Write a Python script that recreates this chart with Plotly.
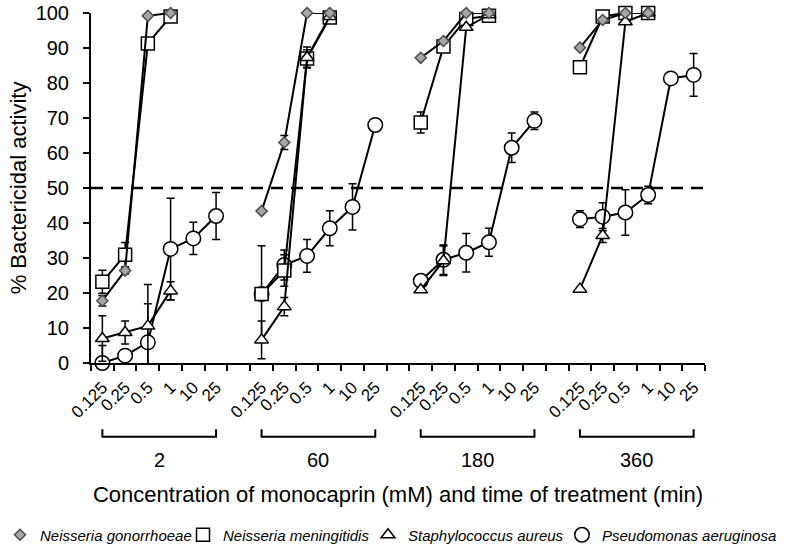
import plotly.graph_objects as go

# ---------------- data ----------------
conc_labels = ["0.125", "0.25", "0.5", "1", "10", "25"]
time_labels = ["2", "60", "180", "360"]

# N. gonorrhoeae (diamond) values per time group
ng_vals = [
    [17.8, 26.4, 99.2, 100, None, None],
    [43.4, 63.0, 100, 100, None, None],
    [87.2, 92.0, 100, 100, None, None],
    [90.1, 98.0, 100, 100, None, None],
]
ng_err = [
    [1.5, 1.0, 0, 0, 0, 0],
    [0, 2.0, 0, 0, 0, 0],
    [0, 0.5, 0, 0, 0, 0],
    [0, 0.5, 0, 0, 0, 0],
]
# N. meningitidis (square)
nm_vals = [
    [23.2, 30.9, 91.3, 99.0, None, None],
    [19.7, 26.4, 87.0, 98.7, None, None],
    [68.7, 90.4, 98.3, 99.2, None, None],
    [84.5, 99.0, 100, 100, None, None],
]
nm_err = [
    [3.3, 3.5, 0.5, 0.5, 0, 0],
    [13.8, 4.5, 2.5, 0.5, 0, 0],
    [3.0, 1.0, 0.5, 0.5, 0, 0],
    [0, 0.5, 0, 0, 0, 0],
]
# S. aureus (triangle)
sa_vals = [
    [7.0, 8.7, 10.6, 20.6, None, None],
    [6.6, 16.1, 87.3, 99.0, None, None],
    [20.9, 29.2, 95.9, 99.5, None, None],
    [21.1, 36.4, 97.5, 100, None, None],
]
sa_err = [
    [6.5, 3.3, 11.8, 2.6, 0, 0],
    [5.4, 2.6, 3.0, 0.5, 0, 0],
    [0.5, 4.2, 0.5, 0, 0, 0],
    [0.5, 2.0, 0.5, 0, 0, 0],
]
# P. aeruginosa (circle)
pa_vals = [
    [0.0, 2.1, 5.9, 32.6, 35.6, 42.0],
    [19.7, 28.0, 30.6, 38.5, 44.6, 68.0],
    [23.5, 29.5, 31.5, 34.5, 61.5, 69.2],
    [41.1, 41.8, 43.0, 48.0, 81.3, 82.3],
]
pa_err = [
    [5.0, 0.5, 11.0, 14.5, 4.6, 6.7],
    [1.0, 4.3, 4.7, 5.0, 6.6, 1.5],
    [1.5, 4.2, 5.5, 4.0, 4.2, 2.5],
    [2.4, 4.0, 6.5, 2.5, 0.5, 6.1],
]

names = ["Neisseria gonorrhoeae", "Neisseria meningitidis",
         "Staphylococcus aureus", "Pseudomonas aeruginosa"]

# ---------------- layout helpers ----------------
n_conc = len(conc_labels)
stride = n_conc + 1  # one empty slot between groups
n_slots = stride * len(time_labels) - 1


def flatten(groups):
    out = []
    for gi, g in enumerate(groups):
        out.extend(g)
        if gi < len(groups) - 1:
            out.append(None)
    return out


xs = list(range(n_slots))
centers = [g * stride + i for g in range(len(time_labels)) for i in range(n_conc)]
center_text = [conc_labels[i] for g in range(len(time_labels)) for i in range(n_conc)]
boundaries = [v - 0.5 for v in range(n_slots + 1)]

FONT = "Liberation Sans, Arial, sans-serif"
W, H = 786, 546

styles = {
    "ng": dict(symbol="diamond", size=8.5, color="#a6a6a6", line=dict(color="#4d4d4d", width=1.5)),
    "nm": dict(symbol="square", size=13, color="white", line=dict(color="black", width=1.5)),
    "sa": dict(symbol="triangle-up", size=12, color="white", line=dict(color="black", width=1.5)),
    "pa": dict(symbol="circle", size=14.5, color="white", line=dict(color="black", width=1.5)),
}

series = {
    "ng": (names[0], ng_vals, ng_err),
    "nm": (names[1], nm_vals, nm_err),
    "sa": (names[2], sa_vals, sa_err),
    "pa": (names[3], pa_vals, pa_err),
}

fig = go.Figure()

# drawing order: circles bottom, then squares, triangles, diamonds on top
for key in ["pa", "nm", "sa", "ng"]:
    name, vals, err = series[key]
    fig.add_trace(go.Scatter(
        x=xs, y=flatten(vals), mode="lines+markers", name=name,
        showlegend=False, cliponaxis=False,
        line=dict(color="black", width=2),
        marker=styles[key],
        error_y=dict(type="data", array=flatten(err), visible=True,
                     color="black", thickness=1.5, width=4),
    ))

# legend entries (markers only), one legend box per entry laid out in a row
legend_ids = ["legend", "legend2", "legend3", "legend4"]
legend_left_px = [0, 183, 368, 562]
for lid, key in zip(legend_ids, ["ng", "nm", "sa", "pa"]):
    fig.add_trace(go.Scatter(
        x=[None], y=[None], mode="markers", name=series[key][0],
        marker=styles[key], showlegend=True, legend=lid,
    ))

legend_common = dict(orientation="h", xref="container", yref="container",
                     xanchor="left", y=1 - 535 / H, yanchor="middle",
                     font=dict(size=15, family=FONT, style="italic"),
                     itemwidth=30, borderwidth=0, bgcolor="rgba(0,0,0,0)")
legends = {lid: dict(legend_common, x=px / W) for lid, px in zip(legend_ids, legend_left_px)}

# dashed 50% line
fig.add_hline(y=50, line=dict(color="black", width=2.5, dash="12px,8px"))

# brackets and time labels
for g, t in enumerate(time_labels):
    x0 = g * stride
    x1 = g * stride + n_conc - 1
    fig.add_shape(type="path", xref="x", yref="paper",
                  path=f"M {x0},-0.189 L {x0},-0.211 L {x1},-0.211 L {x1},-0.189",
                  line=dict(color="black", width=2))
    fig.add_annotation(x=(x0 + x1) / 2, y=-0.277, xref="x", yref="paper",
                       text=t, showarrow=False, yanchor="middle",
                       font=dict(size=20, family=FONT, color="black"))

fig.update_layout(
    width=W, height=H,
    margin=dict(l=91, r=81, t=13, b=183),
    plot_bgcolor="white", paper_bgcolor="white",
    font=dict(family=FONT, color="black"),
    showlegend=True,
    **legends,
    xaxis=dict(
        range=[-0.5, n_slots - 0.5], showgrid=False, zeroline=False,
        showline=True, linecolor="black", linewidth=2,
        tickmode="array", tickvals=centers, ticktext=center_text,
        ticks="", tickangle=-45, tickfont=dict(size=17, family=FONT),
        ticklabelstandoff=6,
        minor=dict(tickmode="array", tickvals=boundaries, ticks="outside",
                   ticklen=6, tickwidth=2, tickcolor="black", showgrid=False),
        title=dict(text="Concentration of monocaprin (mM) and time of treatment (min)",
                   font=dict(size=22, family=FONT), standoff=66),
        automargin=False,
    ),
    yaxis=dict(
        range=[0, 100], showgrid=False, zeroline=False,
        showline=True, linecolor="black", linewidth=2,
        tickmode="array", tickvals=list(range(0, 101, 10)),
        ticks="outside", ticklen=6, tickwidth=2, tickcolor="black",
        tickfont=dict(size=20, family=FONT), ticklabelstandoff=10,
        title=dict(text="% Bactericidal activity", font=dict(size=22, family=FONT), standoff=3),
        automargin=False,
    ),
)

fig.write_html("out.html", config={"displayModeBar": False},
               post_script="document.body.style.margin='0px';")
